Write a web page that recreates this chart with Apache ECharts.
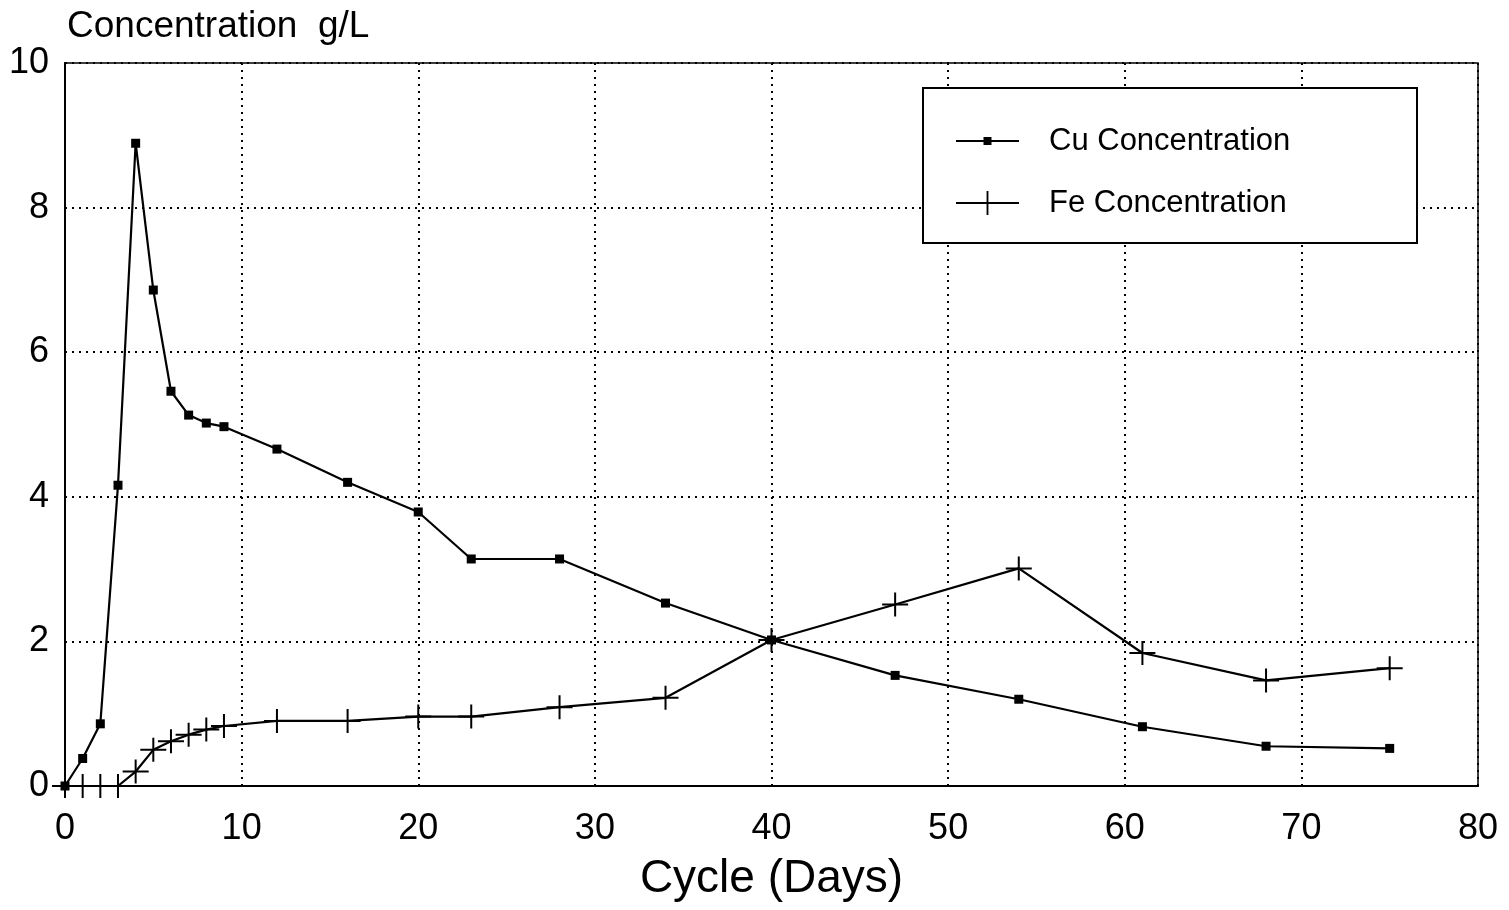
<!DOCTYPE html>
<html>
<head>
<meta charset="utf-8">
<script src="https://cdn.jsdelivr.net/npm/echarts@6/dist/echarts.min.js"></script>
<style>
html,body{margin:0;padding:0;background:#fff;}
#chart{width:1509px;height:910px;}
</style>
</head>
<body>
<div id="chart"></div>
<script>
const days = [0, 1, 2, 3, 4, 5, 6, 7, 8, 9, 12, 16, 20, 23, 28, 34, 40, 47, 54, 61, 68, 75];
const cuConc = [0, 0.38, 0.86, 4.16, 8.89, 6.86, 5.46, 5.13, 5.02, 4.97, 4.66, 4.2, 3.79, 3.14, 3.14, 2.53, 2.02, 1.53, 1.2, 0.82, 0.55, 0.52];
const feConc = [0, 0, 0, 0, 0.2, 0.5, 0.62, 0.71, 0.78, 0.83, 0.9, 0.9, 0.96, 0.96, 1.09, 1.22, 2.02, 2.51, 3.01, 1.84, 1.46, 1.63];
const seriesNames = ['Cu Concentration', 'Fe Concentration'];
const xTitle = 'Cycle (Days)';
const yTitle = 'Concentration  g/L';

const FONT = "'Liberation Sans', Arial, Helvetica, sans-serif";
const plusPath = 'path://M-1,-12 L1,-12 L1,-1 L13,-1 L13,1 L1,1 L1,12 L-1,12 L-1,1 L-13,1 L-13,-1 L-1,-1 Z';

const chart = echarts.init(document.getElementById('chart'), null, {renderer: 'canvas'});
const dotted = {color: '#000', width: 2, type: [2, 5]};

chart.setOption({
  animation: false,
  backgroundColor: '#fff',
  grid: {left: 65, right: 31, top: 63, bottom: 124, outerBoundsMode: 'none', containLabel: false,
         show: true, borderColor: '#000', borderWidth: 1.5, backgroundColor: 'transparent'},
  xAxis: {
    type: 'value', min: 0, max: 80, interval: 10,
    name: xTitle, nameLocation: 'middle', nameGap: 70,
    nameTextStyle: {fontFamily: FONT, fontSize: 46, color: '#000'},
    axisLine: {show: true, lineStyle: {color: '#000', width: 2}},
    axisTick: {show: false},
    axisLabel: {fontFamily: FONT, fontSize: 36, color: '#000', margin: 25},
    splitLine: {show: true, lineStyle: dotted}
  },
  yAxis: {
    type: 'value', min: 0, max: 10, interval: 2,
    name: yTitle, nameLocation: 'end', nameGap: 36,
    nameTextStyle: {fontFamily: FONT, fontSize: 37, color: '#000', align: 'left', verticalAlign: 'middle', padding: [0, 0, 0, 2]},
    axisLine: {show: true, lineStyle: {color: '#000', width: 2}},
    axisTick: {show: false},
    axisLabel: {fontFamily: FONT, fontSize: 36, color: '#000', margin: 16},
    splitLine: {show: true, lineStyle: dotted}
  },
  graphic: [{
    type: 'rect', left: 922, top: 87, z: 3,
    shape: {width: 494, height: 155},
    style: {fill: '#fff', stroke: '#000', lineWidth: 2}
  }],
  legend: [{
    data: [seriesNames[0]], left: 955, top: 124, padding: 0, z: 5,
    itemWidth: 63, itemHeight: 10,
    textStyle: {fontFamily: FONT, fontSize: 31, color: '#000', lineHeight: 34, padding: [0, 0, 0, 25]}
  }, {
    data: [seriesNames[1]], left: 955, top: 186, padding: 0, z: 5,
    itemWidth: 63, itemHeight: 30,
    textStyle: {fontFamily: FONT, fontSize: 31, color: '#000', lineHeight: 34, padding: [0, 0, 0, 25]}
  }],
  series: [{
    name: seriesNames[0], type: 'line',
    data: days.map((d, i) => [d, cuConc[i]]),
    symbol: 'rect', symbolSize: 9,
    itemStyle: {color: '#000'},
    lineStyle: {color: '#000', width: 2.2},
    z: 4
  }, {
    name: seriesNames[1], type: 'line',
    data: days.map((d, i) => [d, feConc[i]]),
    symbol: plusPath, symbolSize: [26, 24], symbolKeepAspect: false,
    itemStyle: {color: '#000'},
    lineStyle: {color: '#000', width: 2.2},
    z: 4
  }]
});
</script>
</body>
</html>
